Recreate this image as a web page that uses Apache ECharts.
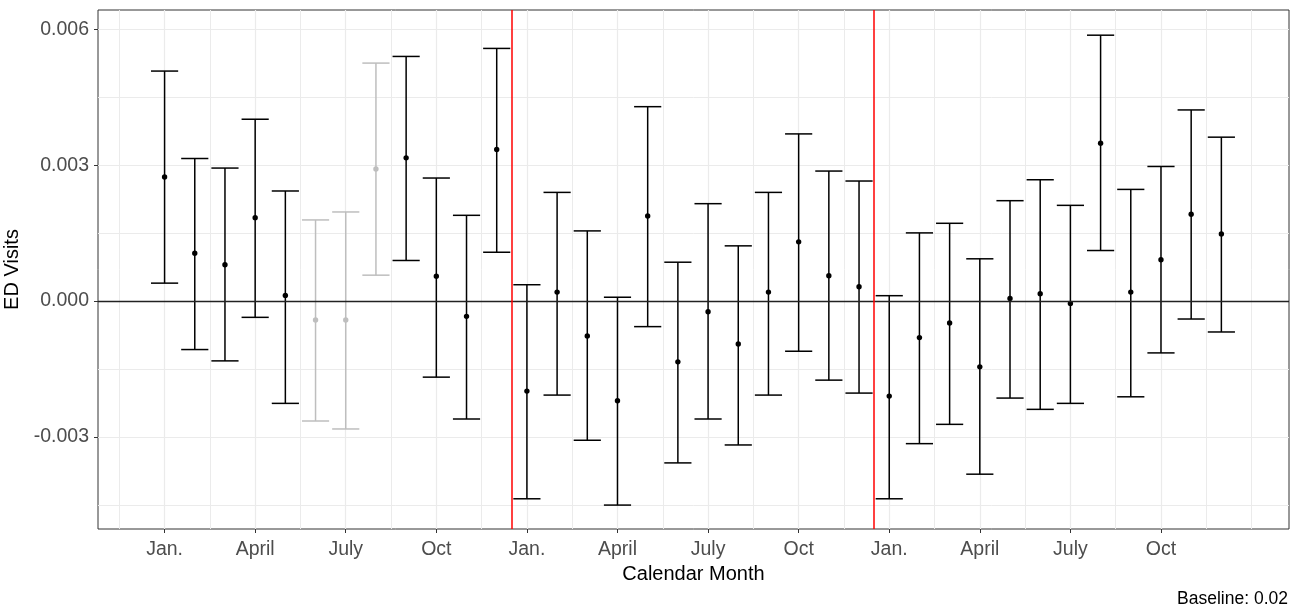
<!DOCTYPE html>
<html><head><meta charset="utf-8">
<script src="https://cdn.jsdelivr.net/npm/echarts@6/dist/echarts.min.js"></script>
<style>html,body{margin:0;padding:0;background:#fff}#c{width:1294px;height:611px}</style>
</head><body><div id="c"></div>
<script>
// ---- data ----
const months = [1,2,3,4,5,6,7,8,9,10,11,12,13,14,15,16,17,18,19,20,21,22,23,24,25,26,27,28,29,30,31,32,33,34,35,36];
const estimate = [0.002738,0.001056,0.000801,0.001842,0.000125,-0.000418,-0.000418,0.002914,0.003162,0.000550,-0.000337,0.003345,
  -0.001987,0.000198,-0.000770,-0.002201,0.001879,-0.001342,-0.000234,-0.000946,0.000198,0.001307,0.000559,0.000317,
  -0.002097,-0.000806,-0.000484,-0.001452,0.000059,0.000163,-0.000051,0.003486,0.000198,0.000911,0.001915,0.001483];
const lower = [0.000396,-0.001070,-0.001320,-0.000359,-0.002258,-0.002647,-0.002823,0.000572,0.000896,-0.001679,-0.002603,0.001078,
  -0.004364,-0.002075,-0.003072,-0.004503,-0.000564,-0.003572,-0.002603,-0.003176,-0.002075,-0.001107,-0.001745,-0.002031,
  -0.004364,-0.003147,-0.002721,-0.003821,-0.002141,-0.002390,-0.002258,0.001116,-0.002113,-0.001144,-0.000396,-0.000682];
const upper = [0.005077,0.003147,0.002936,0.004014,0.002430,0.001791,0.001967,0.005253,0.005400,0.002716,0.001893,0.005577,
  0.000361,0.002399,0.001549,0.000085,0.004291,0.000858,0.002150,0.001219,0.002399,0.003690,0.002870,0.002650,
  0.000119,0.001505,0.001717,0.000933,0.002216,0.002678,0.002113,0.005869,0.002465,0.002971,0.004219,0.003618];
const grayMonths = [6,7,8];
const periodBreaks = [12.5, 24.5];
const baselineY = 0;
const xTickValues = [1,4,7,10,13,16,19,22,25,28,31,34];
const xTickLabels = ['Jan.','April','July','Oct','Jan.','April','July','Oct','Jan.','April','July','Oct'];
const xMinorValues = [-0.5,2.5,5.5,8.5,11.5,14.5,17.5,20.5,23.5,26.5,29.5,32.5,35.5,37];
const yTickValues = [-0.003,0,0.003,0.006];
const yMinorValues = [-0.0045,-0.0015,0.0015,0.0045];
const xTitle = 'Calendar Month';
const yTitle = 'ED Visits';
const caption = 'Baseline: 0.02';

// ---- chart ----
const FONT = '"Liberation Sans", Arial, sans-serif';
const rows = months.map((m,i)=>[m, estimate[i], lower[i], upper[i], grayMonths.includes(m)?1:0]);
const capHalf = 0.45;
const chart = echarts.init(document.getElementById('c'), null, {renderer:'canvas'});
const gridColor = '#EBEBEB';
chart.setOption({
  animation:false,
  backgroundColor:'#fff',
  grid:{left:98, right:5, top:10, bottom:82, show:true, borderColor:'#333', borderWidth:1, backgroundColor:'#fff',
    containLabel:false, outerBoundsMode:'none'},
  xAxis:[{
    type:'value', min:-1.205, max:38.24, position:'bottom',
    axisLine:{show:false, onZero:false},
    axisTick:{show:true, length:4, customValues:xTickValues, lineStyle:{color:'#333', width:1}},
    axisLabel:{customValues:xTickValues, color:'#4D4D4D', fontSize:19.5, fontFamily:FONT, margin:11,
      formatter:v=>{const i=xTickValues.indexOf(v); return i>=0?xTickLabels[i]:'';}},
    splitLine:{show:true, lineStyle:{color:gridColor, width:1.2}},
    name:xTitle, nameLocation:'middle', nameGap:33,
    nameTextStyle:{color:'#000', fontSize:20, fontFamily:FONT}
  },{
    type:'value', min:-1.205, max:38.24, position:'top',
    axisLine:{show:false, onZero:false}, axisTick:{show:false, customValues:xMinorValues}, axisLabel:{show:false, customValues:xMinorValues},
    splitLine:{show:true, lineStyle:{color:gridColor, width:1}}
  }],
  yAxis:[{
    type:'value', min:-0.005031, max:0.006425, position:'left',
    axisLine:{show:false, onZero:false},
    axisTick:{show:true, length:4, customValues:yTickValues, lineStyle:{color:'#333', width:1}},
    axisLabel:{customValues:yTickValues, color:'#4D4D4D', fontSize:19.5, fontFamily:FONT, margin:9,
      formatter:v=>v.toFixed(3)},
    splitLine:{show:true, lineStyle:{color:gridColor, width:1.2}},
    name:yTitle, nameLocation:'middle', nameGap:70, nameRotate:90,
    nameTextStyle:{color:'#000', fontSize:20, fontFamily:FONT}
  },{
    type:'value', min:-0.005031, max:0.006425, position:'right',
    axisLine:{show:false, onZero:false}, axisTick:{show:false, customValues:yMinorValues}, axisLabel:{show:false, customValues:yMinorValues},
    splitLine:{show:true, lineStyle:{color:gridColor, width:1}}
  }],
  graphic:[{type:'text', right:6, bottom:3, style:{text:caption, fill:'#000', fontSize:17.5, fontFamily:FONT}}],
  series:[{
    type:'line', data:[], xAxisIndex:0, yAxisIndex:0, z:1, silent:true,
    markLine:{silent:true, symbol:'none', animation:false, label:{show:false},
      data:[
        {yAxis:baselineY, lineStyle:{color:'#222', width:1.3, type:'solid'}},
        ...periodBreaks.map(b=>({xAxis:b, lineStyle:{color:'#FF0000', width:1.5, type:'solid'}}))
      ]}
  },{
    type:'custom', xAxisIndex:0, yAxisIndex:0, z:3, data:rows, encode:{x:0, y:[1,2,3]},
    renderItem:(params, api)=>{
      const x=api.value(0), est=api.value(1), lo=api.value(2), hi=api.value(3), g=api.value(4);
      const pLo=api.coord([x,lo]), pHi=api.coord([x,hi]), pE=api.coord([x,est]);
      const l=api.coord([x-capHalf,lo])[0], r=api.coord([x+capHalf,lo])[0];
      const color = g ? '#BEBEBE' : '#000';
      const ls={stroke:color, lineWidth:1.5};
      return {type:'group', children:[
        {type:'line', shape:{x1:pLo[0],y1:pLo[1],x2:pHi[0],y2:pHi[1]}, style:ls},
        {type:'line', shape:{x1:l,y1:pHi[1],x2:r,y2:pHi[1]}, style:ls},
        {type:'line', shape:{x1:l,y1:pLo[1],x2:r,y2:pLo[1]}, style:ls},
        {type:'circle', shape:{cx:pE[0],cy:pE[1],r:2.7}, style:{fill:color}}
      ]};
    }
  }]
});
</script></body></html>
